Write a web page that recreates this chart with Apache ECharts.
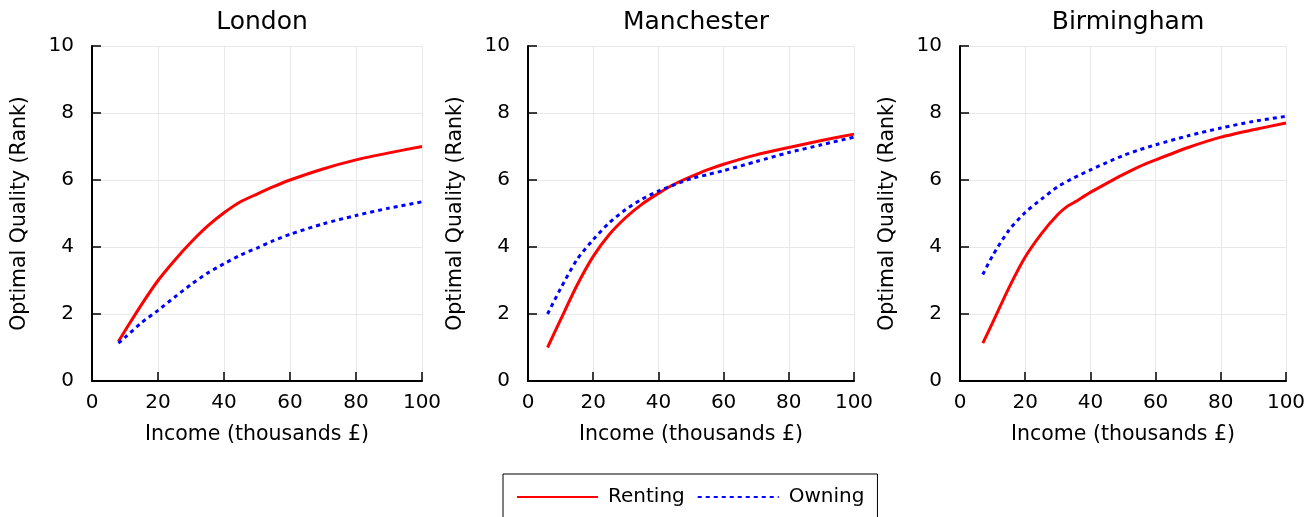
<!DOCTYPE html>
<html>
<head>
<meta charset="utf-8">
<script src="https://cdn.jsdelivr.net/npm/echarts@6/dist/echarts.min.js"></script>
<style>
  html, body { margin: 0; padding: 0; background: #fff; }
  #chart { width: 1315px; height: 517px; }
</style>
</head>
<body>
<div id="chart"></div>
<script>
// 城市与收入-最优住房质量曲线
const cities = ['London', 'Manchester', 'Birmingham']
const xTicks = [0, 20, 40, 60, 80, 100]
const yTicks = [0, 2, 4, 6, 8, 10]

const londonIncome = [8, 10, 15, 20, 25, 30, 35, 40, 45, 50, 55, 60, 70, 80, 90, 100]
const londonRent = [1.18, 1.5, 2.28, 3.0, 3.6, 4.14, 4.62, 5.02, 5.35, 5.58, 5.8, 6.0, 6.33, 6.6, 6.81, 7.0]
const londonOwn = [1.13, 1.3, 1.74, 2.11, 2.5, 2.88, 3.22, 3.5, 3.76, 3.97, 4.19, 4.38, 4.69, 4.94, 5.16, 5.35]

const manIncome = [6, 10, 15, 20, 25, 30, 35, 40, 45, 50, 55, 60, 70, 80, 90, 100]
const manRent = [1.0, 1.83, 2.85, 3.72, 4.38, 4.88, 5.28, 5.6, 5.88, 6.1, 6.3, 6.47, 6.75, 6.97, 7.18, 7.37]
const manOwn = [2.0, 2.76, 3.62, 4.22, 4.73, 5.12, 5.43, 5.67, 5.86, 6.04, 6.16, 6.28, 6.55, 6.82, 7.05, 7.28]

const bhamIncome = [7, 10, 15, 20, 25, 30, 33, 35, 40, 45, 50, 55, 60, 70, 80, 90, 100]
const bhamRent = [1.13, 1.74, 2.78, 3.7, 4.4, 4.97, 5.22, 5.33, 5.63, 5.9, 6.16, 6.4, 6.6, 6.97, 7.28, 7.5, 7.7]
const bhamOwnIncome = [7, 10, 15, 20, 25, 30, 35, 40, 45, 50, 55, 60, 70, 80, 90, 100]
const bhamOwn = [3.18, 3.74, 4.5, 5.03, 5.43, 5.8, 6.07, 6.3, 6.52, 6.73, 6.9, 7.05, 7.32, 7.55, 7.75, 7.9]

const FONT = 'DejaVu Sans'
const grids = [
  { left: 92, top: 46, width: 330, height: 335 },
  { left: 528, top: 46, width: 326, height: 335 },
  { left: 960, top: 46, width: 326, height: 335 }
]

function pairs(xs, ys) {
  return xs.map((x, i) => [x, ys[i]])
}

const rentData = [pairs(londonIncome, londonRent), pairs(manIncome, manRent), pairs(bhamIncome, bhamRent)]
const ownData = [pairs(londonIncome, londonOwn), pairs(manIncome, manOwn), pairs(bhamOwnIncome, bhamOwn)]

const chart = echarts.init(document.getElementById('chart'))

const option = {
  animation: false,
  textStyle: { fontFamily: FONT },
  title: cities.map((c, i) => ({
    text: c,
    left: grids[i].left + grids[i].width / 2,
    top: 5,
    textAlign: 'center',
    textStyle: { fontFamily: FONT, fontSize: 25, fontWeight: 'normal', color: '#000' }
  })),
  legend: {
    left: 503,
    top: 474,
    orient: 'horizontal',
    data: ['Renting', 'Owning'],
    itemWidth: 81,
    itemHeight: 14,
    itemGap: 12,
    padding: [11, 13, 30, 13],
    borderColor: '#000',
    borderWidth: 1,
    itemStyle: { opacity: 0 },
    textStyle: { fontFamily: FONT, fontSize: 20, color: '#000', padding: [0, 0, 0, 5], lineHeight: 24 }
  },
  grid: grids,
  xAxis: grids.map((g, i) => ({
    type: 'value',
    gridIndex: i,
    min: xTicks[0],
    max: xTicks[xTicks.length - 1],
    interval: 20,
    name: 'Income (thousands £)',
    nameLocation: 'middle',
    nameGap: 43,
    nameTextStyle: { fontFamily: FONT, fontSize: 20.5, color: '#000' },
    axisLine: { onZero: false, lineStyle: { color: '#000', width: 2 } },
    axisTick: { inside: true, length: 9, lineStyle: { color: '#000', width: 1.5 } },
    axisLabel: { margin: 12, fontFamily: FONT, fontSize: 20, color: '#000' },
    splitLine: { show: true, lineStyle: { color: '#e8e8e8', width: 1 } }
  })),
  yAxis: grids.map((g, i) => ({
    type: 'value',
    gridIndex: i,
    min: yTicks[0],
    max: yTicks[yTicks.length - 1],
    interval: 2,
    name: 'Optimal Quality (Rank)',
    nameLocation: 'middle',
    nameGap: 62,
    nameTextStyle: { fontFamily: FONT, fontSize: 20.5, color: '#000' },
    axisLine: { show: true, onZero: false, lineStyle: { color: '#000', width: 2 } },
    axisTick: { show: true, inside: true, length: 9, lineStyle: { color: '#000', width: 1.5 } },
    axisLabel: { margin: 18, fontFamily: FONT, fontSize: 20, color: '#000' },
    splitLine: { show: true, lineStyle: { color: '#e8e8e8', width: 1 } }
  })),
  series: []
}

for (let i = 0; i < 3; i++) {
  option.series.push({
    name: 'Renting',
    type: 'line',
    xAxisIndex: i,
    yAxisIndex: i,
    data: rentData[i],
    smooth: 0.25,
    symbol: 'none',
    lineStyle: { color: '#ff0000', width: 3 },
    itemStyle: { color: '#ff0000' }
  })
  option.series.push({
    name: 'Owning',
    type: 'line',
    xAxisIndex: i,
    yAxisIndex: i,
    data: ownData[i],
    smooth: 0.25,
    symbol: 'none',
    lineStyle: { color: '#0000ff', width: 3, type: [4, 4] },
    itemStyle: { color: '#0000ff' }
  })
}

chart.setOption(option)
</script>
</body>
</html>
